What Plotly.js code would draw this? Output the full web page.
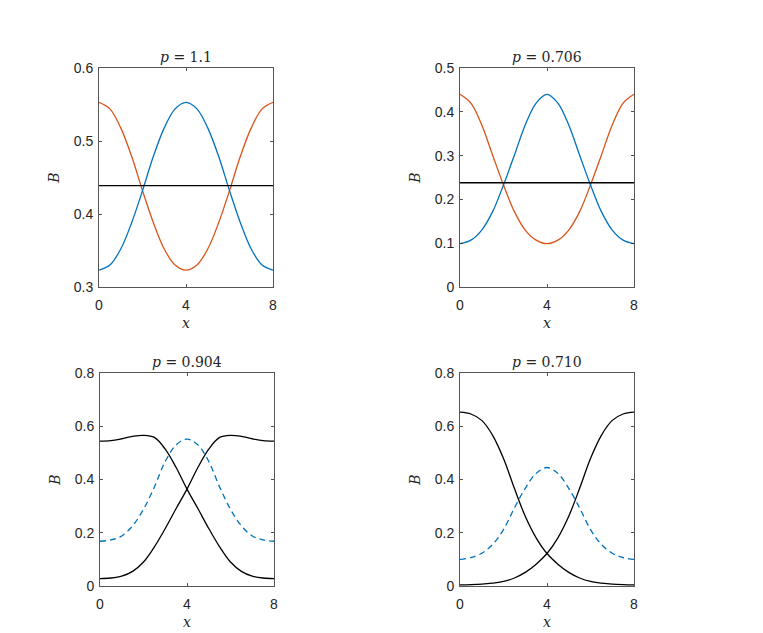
<!DOCTYPE html>
<html>
<head>
<meta charset="utf-8">
<script src="https://cdn.plot.ly/plotly-3.0.1.min.js"></script>
<style>
  html, body { margin: 0; padding: 0; background: #fff; }
  #plot { width: 763px; height: 633px; }
</style>
</head>
<body>
<div id="plot"></div>
<script>
// x grid shared by all panels
var xs = [0, 0.5, 1, 1.5, 2, 2.5, 3, 3.5, 4, 4.5, 5, 5.5, 6, 6.5, 7, 7.5, 8];

// panel 1: p = 1.1
var p1Blue   = [0.323, 0.330, 0.352, 0.388, 0.432, 0.479, 0.518, 0.544, 0.553, 0.544, 0.518, 0.479, 0.432, 0.388, 0.352, 0.330, 0.323];
var p1Orange = [0.553, 0.544, 0.518, 0.479, 0.432, 0.388, 0.352, 0.330, 0.323, 0.330, 0.352, 0.388, 0.432, 0.479, 0.518, 0.544, 0.553];
var p1Mean   = [0.439, 0.439, 0.439, 0.439, 0.439, 0.439, 0.439, 0.439, 0.439, 0.439, 0.439, 0.439, 0.439, 0.439, 0.439, 0.439, 0.439];

// panel 2: p = 0.706
var p2Blue   = [0.099, 0.107, 0.130, 0.172, 0.233, 0.301, 0.370, 0.420, 0.440, 0.420, 0.370, 0.301, 0.233, 0.172, 0.130, 0.107, 0.099];
var p2Orange = [0.440, 0.420, 0.370, 0.301, 0.233, 0.172, 0.130, 0.107, 0.099, 0.107, 0.130, 0.172, 0.233, 0.301, 0.370, 0.420, 0.440];
var p2Mean   = [0.238, 0.238, 0.238, 0.238, 0.238, 0.238, 0.238, 0.238, 0.238, 0.238, 0.238, 0.238, 0.238, 0.238, 0.238, 0.238, 0.238];

// panel 3: p = 0.904
var p3Down = [0.544, 0.546, 0.553, 0.562, 0.566, 0.558, 0.514, 0.445, 0.364, 0.291, 0.216, 0.147, 0.090, 0.055, 0.037, 0.030, 0.028];
var p3Up   = [0.028, 0.030, 0.037, 0.055, 0.090, 0.147, 0.216, 0.291, 0.364, 0.445, 0.514, 0.558, 0.566, 0.562, 0.553, 0.546, 0.544];
var p3Dash = [0.168, 0.173, 0.188, 0.226, 0.288, 0.372, 0.468, 0.530, 0.552, 0.530, 0.468, 0.372, 0.288, 0.226, 0.188, 0.173, 0.168];

// panel 4: p = 0.710
var p4Down = [0.653, 0.646, 0.622, 0.566, 0.479, 0.367, 0.262, 0.181, 0.122, 0.082, 0.051, 0.030, 0.017, 0.011, 0.007, 0.005, 0.004];
var p4Up   = [0.004, 0.005, 0.007, 0.011, 0.017, 0.030, 0.051, 0.082, 0.122, 0.181, 0.262, 0.367, 0.479, 0.566, 0.622, 0.646, 0.653];
var p4Dash = [0.100, 0.107, 0.123, 0.156, 0.212, 0.293, 0.367, 0.423, 0.445, 0.423, 0.367, 0.293, 0.212, 0.156, 0.123, 0.107, 0.100];

var titles = ['<i>p</i> = 1.1', '<i>p</i> = 0.706', '<i>p</i> = 0.904', '<i>p</i> = 0.710'];
var yTicks = [
  [0.3, 0.4, 0.5, 0.6],
  [0, 0.1, 0.2, 0.3, 0.4, 0.5],
  [0, 0.2, 0.4, 0.6, 0.8],
  [0, 0.2, 0.4, 0.6, 0.8]
];
var yRanges = [[0.3, 0.6], [0, 0.5], [0, 0.8], [0, 0.8]];
var xTicks = [0, 4, 8];

var BLUE = '#0072BD', ORANGE = '#D95319', BLACK = '#000000';
var AX = '#262626';

function line(x, y, ax, color, dash) {
  return {
    x: x, y: y, xaxis: 'x' + ax, yaxis: 'y' + ax,
    mode: 'lines', type: 'scatter', showlegend: false, hoverinfo: 'skip',
    line: { color: color, width: 1.3, shape: 'spline', smoothing: 1, dash: dash || 'solid' }
  };
}

var data = [
  line(xs, p1Orange, '', ORANGE), line(xs, p1Blue, '', BLUE), line(xs, p1Mean, '', BLACK),
  line(xs, p2Orange, 2, ORANGE), line(xs, p2Blue, 2, BLUE), line(xs, p2Mean, 2, BLACK),
  line(xs, p3Dash, 3, BLUE, '6px,4px'), line(xs, p3Down, 3, BLACK), line(xs, p3Up, 3, BLACK),
  line(xs, p4Dash, 4, BLUE, '6px,4px'), line(xs, p4Down, 4, BLACK), line(xs, p4Up, 4, BLACK)
];

var W = 763, H = 633;
// pixel boxes of each axes [left, right, top, bottom]
var boxes = [[99, 273, 68, 287], [460, 634, 68, 287], [100, 274, 373, 586], [460, 634, 373, 586]];

var tickFont = { family: 'Liberation Sans, Arial, sans-serif', size: 14, color: AX };
var mathFont = { family: 'DejaVu Serif, Liberation Serif, serif', size: 14, color: AX };

var layout = {
  width: W, height: H,
  margin: { l: 0, r: 0, t: 0, b: 0 },
  paper_bgcolor: '#ffffff', plot_bgcolor: '#ffffff',
  showlegend: false,
  annotations: []
};

boxes.forEach(function (b, i) {
  var sfx = i === 0 ? '' : String(i + 1);
  var ref = i === 0 ? '' : String(i + 1);
  layout['xaxis' + sfx] = {
    domain: [b[0] / W, b[1] / W],
    anchor: 'y' + ref,
    range: [0, 8],
    tickvals: xTicks, ticktext: xTicks.map(String),
    ticks: 'inside', ticklen: 3, tickcolor: AX, tickwidth: 0.8,
    showline: true, linecolor: '#555555', linewidth: 1, mirror: 'ticks',
    showgrid: false, zeroline: false,
    tickfont: tickFont, ticklabelstandoff: 5,
    title: { text: '<i>x</i>', font: mathFont, standoff: 6 }
  };
  layout['yaxis' + sfx] = {
    domain: [1 - b[3] / H, 1 - b[2] / H],
    anchor: 'x' + ref,
    range: yRanges[i],
    tickvals: yTicks[i],
    ticktext: yTicks[i].map(function (v) { return v === 0 ? '0' : v.toFixed(1); }),
    ticks: 'inside', ticklen: 3, tickcolor: AX, tickwidth: 0.8,
    showline: true, linecolor: '#555555', linewidth: 1, mirror: 'ticks',
    showgrid: false, zeroline: false,
    tickfont: tickFont, ticklabelstandoff: 2,
    title: { text: '<i>B</i>', font: mathFont, standoff: 10 }
  };
  layout.annotations.push({
    text: titles[i], showarrow: false,
    xref: 'x' + ref + ' domain', yref: 'y' + ref + ' domain',
    x: 0.5, y: 1, xanchor: 'center', yanchor: 'bottom', yshift: 1,
    font: mathFont
  });
});

Plotly.newPlot('plot', data, layout, { displayModeBar: false, staticPlot: true });
</script>
</body>
</html>
